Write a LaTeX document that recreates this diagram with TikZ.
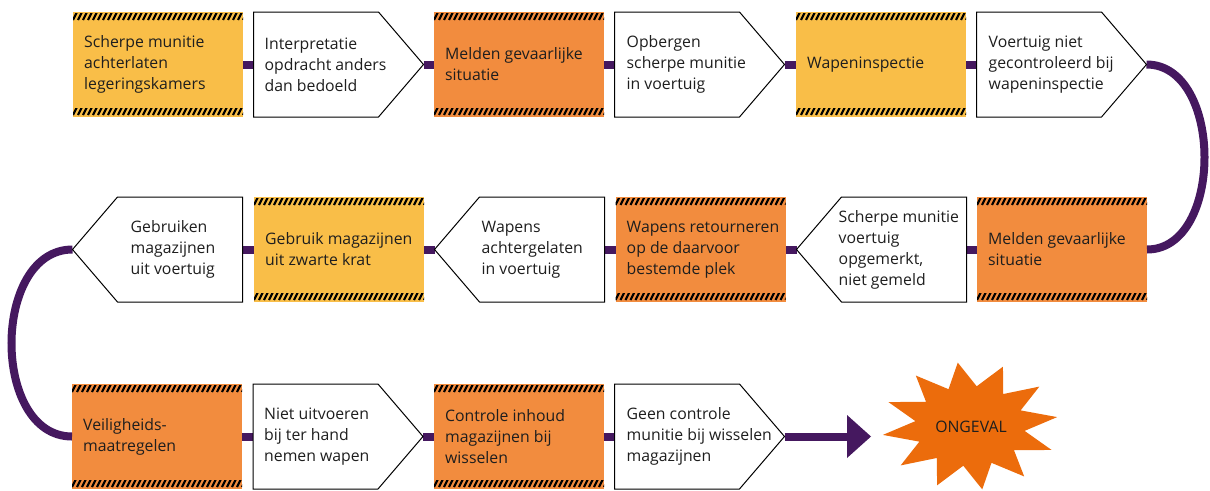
\documentclass[tikz,border=0pt]{standalone}
\usepackage{fontspec}
\setmainfont{Open Sans}
\usetikzlibrary{calc}
\definecolor{pur}{RGB}{69,24,95}
\definecolor{yel}{RGB}{249,190,72}
\definecolor{ora}{RGB}{242,140,62}
\definecolor{starc}{RGB}{236,108,12}
\definecolor{tx}{RGB}{30,30,30}
\tikzset{
  boxnode/.style={minimum width=170pt, minimum height=105pt, inner sep=0pt, outer sep=0pt},
  ybox/.style={boxnode, fill=yel},
  obox/.style={boxnode, fill=ora},
  wnode/.style={boxnode},
  wshape/.style={fill=white, draw=black, line width=1pt, line join=miter},
  conn/.style={draw=pur, line width=8pt},
  stripe/.style={draw=black, line width=2.2pt},
  txt/.style={anchor=west, align=left, font=\fontsize{15.8pt}{21pt}\selectfont, text=tx, inner sep=0pt},
}
\newcommand\hatchband[1]{%
  \begin{scope}
    \clip ($(#1.north west)+(0,1)$) rectangle ($(#1.north east)+(0,8)$);
    \foreach \i in {-1,...,35} \draw[stripe] ($(#1.north west)+(\i*5,8)$) -- ++(4,-8);
  \end{scope}
  \begin{scope}
    \clip ($(#1.south west)+(0,-9)$) rectangle ($(#1.south east)+(0,-2)$);
    \foreach \i in {-1,...,35} \draw[stripe] ($(#1.south west)+(\i*5,-2)$) -- ++(4,-8);
  \end{scope}}
\newcommand\rpent[1]{\draw[wshape] (#1.north west) -- ($(#1.north east)+(-45,0)$) -- (#1.east) -- ($(#1.south east)+(-45,0)$) -- (#1.south west) -- cycle;}
\newcommand\lpent[1]{\draw[wshape] (#1.north east) -- ($(#1.north west)+(45,0)$) -- (#1.west) -- ($(#1.south west)+(45,0)$) -- (#1.south east) -- cycle;}
\begin{document}
\begin{tikzpicture}[x=1pt, y=-1pt]
\useasboundingbox (0,0) rectangle (1210,490);
% row 1
\node[ybox] (b1) at (158,64.5) {};
\node[wnode] (b2) at (338.5,64.5) {};
\node[obox] (b3) at (519,64.5) {};
\node[wnode] (b4) at (699.5,64.5) {};
\node[ybox] (b5) at (881,64.5) {};
\node[wnode] (b6) at (1061.5,64.5) {};
% row 2
\node[obox] (c1) at (1062,249.5) {};
\node[wnode] (c2) at (881.5,249.5) {};
\node[obox] (c3) at (700.5,249.5) {};
\node[wnode] (c4) at (519.5,249.5) {};
\node[ybox] (c5) at (339,249.5) {};
\node[wnode] (c6) at (157.5,249.5) {};
% row 3
\node[obox] (d1) at (157,436.5) {};
\node[wnode] (d2) at (338,436.5) {};
\node[obox] (d3) at (519,436.5) {};
\node[wnode] (d4) at (699.5,436.5) {};
% connectors
\draw[conn] (b1.east) -- (b2.west);
\draw[conn] (b2.east) -- (b3.west);
\draw[conn] (b3.east) -- (b4.west);
\draw[conn] (b4.east) -- (b5.west);
\draw[conn] (b5.east) -- (b6.west);
\draw[conn] (b6.east) .. controls ($(b6.east)+(77,0)$) and ($(c1.east)+(77,0)$) .. (c1.east);
\draw[conn] (c1.west) -- (c2.east);
\draw[conn] (c2.west) -- (c3.east);
\draw[conn] (c3.west) -- (c4.east);
\draw[conn] (c4.west) -- (c5.east);
\draw[conn] (c5.west) -- (c6.east);
\draw[conn] (c6.west) .. controls ($(c6.west)+(-81,0)$) and ($(d1.west)+(-81,0)$) .. (d1.west);
\draw[conn] (d1.east) -- (d2.west);
\draw[conn] (d2.east) -- (d3.west);
\draw[conn] (d3.east) -- (d4.west);
\coordinate (abase) at (847,436.5);
\coordinate (aend) at (871,436.5);
\draw[conn] (d4.east) -- (abase);
\fill[pur] ($(abase)+(0,-21.5)$) -- (aend) -- ($(abase)+(0,21.5)$) -- cycle;
% shapes
\rpent{b2}\rpent{b4}\rpent{b6}
\lpent{c2}\lpent{c4}\lpent{c6}
\rpent{d2}\rpent{d4}
\foreach \n in {b1,b3,b5,c1,c3,c5,d1,d3} {\hatchband{\n}}
% texts
\node[txt] (b1t) at ($(b1.west)+(11,0)$) {Scherpe munitie\\achterlaten\\legeringskamers};
\node[txt] (b2t) at ($(b2.west)+(11,0)$) {Interpretatie\\opdracht anders\\dan bedoeld};
\node[txt] (b3t) at ($(b3.west)+(11,0)$) {Melden gevaarlijke\\situatie};
\node[txt] (b4t) at ($(b4.west)+(12,0)$) {Opbergen\\scherpe munitie\\in voertuig};
\node[txt] (b5t) at ($(b5.west)+(11,0)$) {Wapeninspectie};
\node[txt] (b6t) at ($(b6.west)+(12,0)$) {Voertuig niet\\gecontroleerd bij\\wapeninspectie};
\node[txt] (c1t) at ($(c1.west)+(11,0)$) {Melden gevaarlijke\\situatie};
\node[txt] (c2t) at ($(c2.west)+(42,0)$) {Scherpe munitie\\voertuig\\opgemerkt,\\niet gemeld};
\node[txt] (c3t) at ($(c3.west)+(11,0)$) {Wapens retourneren\\op de daarvoor\\bestemde plek};
\node[txt] (c4t) at ($(c4.west)+(47,0)$) {Wapens\\achtergelaten\\in voertuig};
\node[txt] (c5t) at ($(c5.west)+(11,0)$) {Gebruik magazijnen\\uit zwarte krat};
\node[txt] (c6t) at ($(c6.west)+(58,0)$) {Gebruiken\\magazijnen\\uit voertuig};
\node[txt] (d1t) at ($(d1.west)+(11,0)$) {Veiligheids-\\maatregelen};
\node[txt] (d2t) at ($(d2.west)+(11,0)$) {Niet uitvoeren\\bij ter hand\\nemen wapen};
\node[txt] (d3t) at ($(d3.west)+(11,0)$) {Controle inhoud\\magazijnen bij\\wisselen};
\node[txt] (d4t) at ($(d4.west)+(12,0)$) {Geen controle\\munitie bij wisselen\\magazijnen};
% star
\fill[starc, shift={(970,426)}] ({88*cos(-8)},{64*sin(-8)})
  \foreach \k in {1,...,23} { -- ({(mod(\k,2)==1 ? 55 : 88)*cos(15*\k-8)}, {(mod(\k,2)==1 ? 40 : 64)*sin(15*\k-8)}) } -- cycle;
\node[txt, anchor=center] (ong) at (971,427) {ONGEVAL};
\end{tikzpicture}
\end{document}
